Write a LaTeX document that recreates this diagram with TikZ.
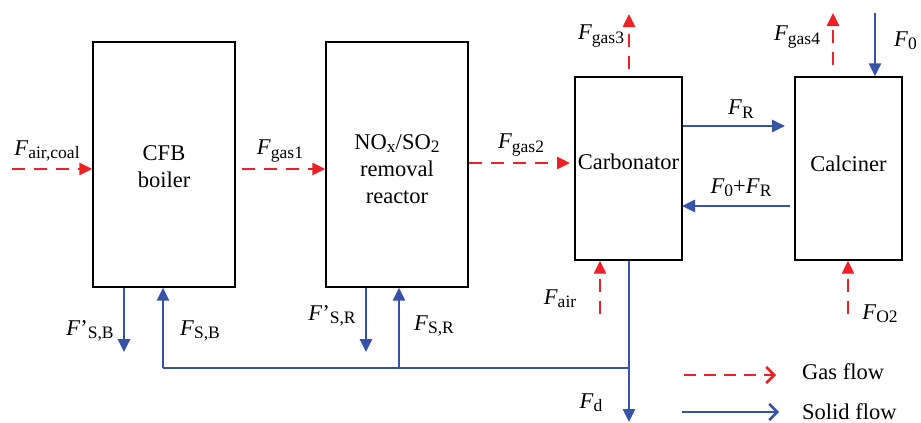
\documentclass[tikz,border=0pt]{standalone}
\usepackage{fontspec}
\setmainfont{Liberation Serif}
\usetikzlibrary{arrows.meta}
\definecolor{gasred}{RGB}{237,32,36}
\definecolor{solblue}{RGB}{55,83,168}
\newcommand{\sbs}[1]{\raisebox{-0.32ex}{\fontsize{17.5}{17.5}\selectfont #1}}
\newcommand{\FF}[1]{\textit{F}\sbs{#1}}
\begin{document}
\begin{tikzpicture}[x=1pt,y=-1pt,
  font=\fontsize{22.5}{27}\selectfont,
  box/.style={draw=black, line width=1.4pt, inner sep=0pt, align=center},
  bigbox/.style={box, minimum width=142pt, minimum height=245pt},
  smallbox/.style={box, minimum width=107pt, minimum height=183pt},
  gas/.style={draw=gasred, line width=2.6pt, dash pattern=on 13pt off 9pt,
    -{Triangle[length=13pt,width=12pt]}, color=gasred},
  sol/.style={draw=solblue, line width=2.6pt, -{Triangle[length=13pt,width=12pt]}, color=solblue},
  solline/.style={draw=solblue, line width=2.6pt},
  lgas/.style={draw=gasred, line width=2.6pt, dash pattern=on 12pt off 8pt,
    -{Straight Barb[length=8pt,width=16pt,line width=2.6pt]}},
  lsol/.style={draw=solblue, line width=2.6pt,
    -{Straight Barb[length=8pt,width=16pt,line width=2.6pt]}},
  lbl/.style={inner sep=0pt}
]
\useasboundingbox (0,0) rectangle (921,423);

% boxes
\node[bigbox] (cfb) at (164,164.5) {};
\node[lbl, align=center] (cfbt) at (164,167) {CFB\\boiler};
\node[bigbox] (nox) at (397,164.5) {};
\node[lbl, align=center] (noxt) at (397,169) {NO\sbs{x}/SO\sbs{2}\\removal\\reactor};
\node[smallbox] (carb) at (628.5,168.5) {};
\node[lbl] (carbt) at (628.5,162) {Carbonator};
\node[smallbox] (calc) at (848.5,168.5) {};
\node[lbl] (calct) at (848.5,164) {Calciner};

% coordinates
\coordinate (ac) at (12,169);
\coordinate (g1) at (242,169);
\coordinate (g2) at (570,163);
\coordinate (g3) at (629,14);
\coordinate (g4) at (833,13);
\coordinate (f0) at (875,13);
\coordinate (fr) at (790,126);
\coordinate (fb) at (682,206);
\coordinate (fa) at (600,314);
\coordinate (fo) at (848,314);
\coordinate (psb) at (124,352);
\coordinate (psr) at (366,352);
\coordinate (fsb) at (163,368);
\coordinate (fsr) at (399,368);
\coordinate (junc) at (629,368);
\coordinate (fd) at (629,422);

% gas flows
\draw[gas] (ac) -- (cfb.west |- ac);
\draw[gas] (g1) -- (nox.west |- g1);
\draw[gas] (nox.east |- g2) -- (g2);
\draw[gas, shorten <=7pt] (carb.north -| g3) -- (g3);
\draw[gas, shorten <=11pt] (calc.north -| g4) -- (g4);
\draw[gas] (fa) -- (carb.south -| fa);
\draw[gas] (fo) -- (calc.south -| fo);

% solid flows
\draw[sol] (f0) -- (calc.north -| f0);
\draw[sol, shorten >=5pt] (carb.east |- fr) -- (fr);
\draw[sol, shorten <=4pt] (calc.west |- fb) -- (fb);
\draw[sol] (cfb.south -| psb) -- (psb);
\draw[sol] (nox.south -| psr) -- (psr);
\draw[sol] (fsb) -- (cfb.south -| fsb);
\draw[sol] (fsr) -- (nox.south -| fsr);
\draw[solline] (fsb) -- (junc);
\draw[sol] (carb.south -| junc) -- (fd);

% labels
\node[lbl] (lac) at (47,151) {\FF{air,coal}};
\node[lbl] (lg1) at (280,151) {\FF{gas1}};
\node[lbl] (lg2) at (521,145) {\FF{gas2}};
\node[lbl] (lg3) at (601,36) {\FF{gas3}};
\node[lbl] (lg4) at (797,37) {\FF{gas4}};
\node[lbl, anchor=west] (lf0) at (894,41) {\FF{0}};
\node[lbl] (lfr) at (741,109) {\FF{R}};
\node[lbl] (lfb) at (741,188) {\FF{0}+\FF{R}};
\node[lbl] (lfa) at (560,299) {\FF{air}};
\node[lbl] (lfo) at (880,314) {\FF{O2}};
\node[lbl] (lfd) at (591,403) {\FF{d}};
\node[lbl] (lpsb) at (90,331) {\textit{F}’\sbs{S,B}};
\node[lbl] (lfsb) at (200,331) {\FF{S,B}};
\node[lbl] (lpsr) at (332,316) {\textit{F}’\sbs{S,R}};
\node[lbl] (lfsr) at (434,326) {\FF{S,R}};

% legend
\coordinate (lga) at (684,375);
\coordinate (lgb) at (776,375);
\coordinate (lsa) at (682,412);
\coordinate (lsb) at (779,412);
\draw[lgas] (lga) -- (lgb);
\draw[lsol] (lsa) -- (lsb);
\node[lbl, anchor=west] (tgas) at (802,372) {Gas flow};
\node[lbl, anchor=west] (tsol) at (802,412) {Solid flow};
\end{tikzpicture}
\end{document}
